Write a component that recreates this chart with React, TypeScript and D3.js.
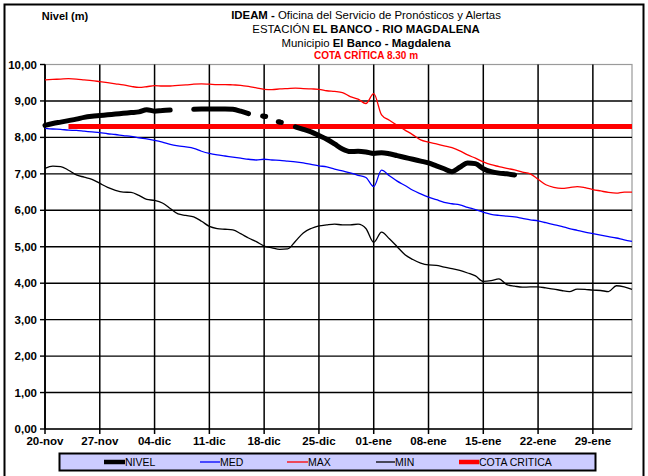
import React from "react";
import * as d3 from "d3";

const W = 648;
const H = 476;

const tickLabels = ["20-nov", "27-nov", "04-dic", "11-dic", "18-dic", "25-dic", "01-ene", "08-ene", "15-ene", "22-ene", "29-ene"];
const tickDays = [0, 7, 14, 21, 28, 35, 42, 49, 56, 63, 70];
const yTicks = [0, 1, 2, 3, 4, 5, 6, 7, 8, 9, 10];

const nivel: (number | null)[] = [
  8.33, 8.38, 8.42, 8.46, 8.5, 8.55, 8.58, 8.6, 8.62, 8.64, 8.66, 8.68, 8.7, 8.76, 8.72, 8.74, 8.75,
  null, null, 8.77, 8.78, 8.78, 8.78, 8.78, 8.77, 8.72, 8.65, null, 8.58, null, 8.42, null,
  8.29, 8.22, 8.15, 8.05, 7.95, 7.82, 7.68, 7.61, 7.62, 7.6, 7.56, 7.58, 7.55, 7.5, 7.45, 7.4,
  7.35, 7.3, 7.22, 7.14, 7.06, 7.18, 7.3, 7.28, 7.14, 7.06, 7.02, 7.0, 6.97,
];

const med = [
  8.25, 8.23, 8.22, 8.2, 8.19, 8.17, 8.15, 8.13, 8.1, 8.08, 8.05, 8.03, 7.99, 7.96, 7.92, 7.87,
  7.81, 7.77, 7.74, 7.7, 7.62, 7.56, 7.52, 7.49, 7.46, 7.43, 7.4, 7.38, 7.4, 7.38, 7.37, 7.35,
  7.33, 7.3, 7.26, 7.22, 7.19, 7.13, 7.08, 7.03, 6.96, 6.9, 6.65, 7.1, 6.95, 6.8, 6.68, 6.55,
  6.45, 6.36, 6.29, 6.22, 6.18, 6.15, 6.08, 6.02, 5.95, 5.89, 5.86, 5.84, 5.82, 5.78, 5.74,
  5.71, 5.66, 5.61, 5.56, 5.5, 5.45, 5.4, 5.36, 5.32, 5.28, 5.24, 5.19, 5.15,
];

const max = [
  9.58, 9.59, 9.6, 9.61, 9.6, 9.58, 9.56, 9.53, 9.5, 9.47, 9.44, 9.4, 9.37, 9.39, 9.42, 9.41,
  9.41, 9.43, 9.44, 9.46, 9.47, 9.46, 9.45, 9.45, 9.44, 9.43, 9.4, 9.36, 9.32, 9.31, 9.33, 9.34,
  9.35, 9.34, 9.33, 9.32, 9.28, 9.26, 9.23, 9.12, 9.05, 8.93, 9.2, 8.62, 8.47, 8.33, 8.2, 8.07,
  7.93, 7.87, 7.82, 7.77, 7.72, 7.63, 7.52, 7.43, 7.33, 7.25, 7.2, 7.15, 7.11, 7.05, 7.0, 6.85,
  6.7, 6.63, 6.6, 6.62, 6.65, 6.62, 6.57, 6.53, 6.49, 6.47, 6.5, 6.5,
];

const min = [
  7.15, 7.21, 7.2, 7.1, 6.97, 6.91, 6.85, 6.74, 6.63, 6.55, 6.5, 6.49, 6.41, 6.3, 6.27, 6.2,
  6.05, 5.9, 5.86, 5.82, 5.7, 5.56, 5.5, 5.48, 5.46, 5.36, 5.24, 5.14, 5.02, 4.97, 4.93, 4.94,
  5.15, 5.38, 5.5, 5.57, 5.6, 5.62, 5.6, 5.6, 5.62, 5.5, 5.12, 5.4, 5.22, 5.0, 4.78, 4.65, 4.55,
  4.5, 4.49, 4.44, 4.4, 4.35, 4.28, 4.2, 4.05, 4.07, 4.12, 3.96, 3.92, 3.89, 3.9, 3.9, 3.87,
  3.84, 3.8, 3.77, 3.84, 3.83, 3.81, 3.8, 3.77, 3.93, 3.9, 3.83,
];

const cotaCritica = 8.3;
const cotaStartDay = 3;
const lastDay = 75;

const FONT = "'Liberation Sans', Arial, sans-serif";

export default function App() {
  const left = 45;
  const right = 632;
  const top = 64.5;
  const bottom = 429;

  const x = d3.scaleLinear().domain([0, lastDay]).range([left, right]);
  const y = d3.scaleLinear().domain([0, 10]).range([bottom, top]);

  const line = d3
    .line<number | null>()
    .defined((d) => d !== null)
    .x((_, i) => x(i))
    .y((d) => y(d as number))
    .curve(d3.curveMonotoneX);

  const cota = d3.range(cotaStartDay, lastDay + 1).map(() => cotaCritica);
  const cotaLine = d3
    .line<number>()
    .x((_, i) => x(i + cotaStartDay))
    .y((d) => y(d));

  // isolated NIVEL readings (no neighbours) drawn as short marks
  const isolated = nivel
    .map((v, i) => ({ v, i }))
    .filter(
      (d) =>
        d.v !== null &&
        (d.i === 0 || nivel[d.i - 1] === null) &&
        (d.i === nivel.length - 1 || nivel[d.i + 1] === null)
    );

  const legendItems = [
    { label: "NIVEL", color: "#000", w: 4.5, x1: 104, x2: 125 },
    { label: "MED", color: "#0000ff", w: 1.3, x1: 200, x2: 220 },
    { label: "MAX", color: "#ff0000", w: 1.3, x1: 287, x2: 308 },
    { label: "MIN", color: "#000", w: 1.3, x1: 376, x2: 395 },
    { label: "COTA CRITICA", color: "#ff0000", w: 4.5, x1: 459, x2: 479 },
  ];

  return (
    <svg
      width={W}
      height={H}
      style={{ position: "absolute", left: 0, top: 0, background: "#fff" }}
      fontFamily={FONT}
    >
      <rect x={0} y={0} width={W} height={H} fill="#fff" />
      {/* outer frame */}
      <rect x={4.5} y={4.5} width={639} height={480} fill="none" stroke="#000" strokeWidth={2} />

      {/* titles */}
      <text x={65} y={20} fontSize={11} fontWeight="bold" textAnchor="middle">
        Nivel (m)
      </text>
      <text x={366} y={19} fontSize={11.4} textAnchor="middle">
        <tspan fontWeight="bold">IDEAM - </tspan>
        <tspan>Oficina del Servicio de Pronósticos y Alertas</tspan>
      </text>
      <text x={366} y={33} fontSize={11.4} textAnchor="middle">
        <tspan>ESTACIÓN </tspan>
        <tspan fontWeight="bold">EL BANCO - RIO MAGDALENA</tspan>
      </text>
      <text x={366} y={47} fontSize={11.4} textAnchor="middle">
        <tspan>Municipio </tspan>
        <tspan fontWeight="bold">El Banco - Magdalena</tspan>
      </text>
      <text x={366} y={59} fontSize={10} fontWeight="bold" fill="#ff0000" textAnchor="middle">
        COTA CRÍTICA 8.30 m
      </text>

      {/* plot border */}
      <rect x={left} y={top} width={right - left} height={bottom - top} fill="#fff" stroke="#9a9a9a" strokeWidth={1.2} />

      {/* horizontal grid */}
      {yTicks.map((t) => (
        <g key={"h" + t}>
          {t > 0 && t < 10 && (
            <line x1={left} x2={right} y1={y(t)} y2={y(t)} stroke="#000" strokeWidth={1.4} />
          )}
          <line x1={left - 5} x2={left} y1={y(t)} y2={y(t)} stroke="#000" strokeWidth={1.4} />
          <text x={37} y={y(t) + 4} fontSize={11.5} fontWeight="bold" textAnchor="end">
            {d3.format(".2f")(t).replace(".", ",")}
          </text>
        </g>
      ))}

      {/* vertical grid */}
      {tickDays.map((d, i) => (
        <g key={"v" + d}>
          <line x1={x(d)} x2={x(d)} y1={top} y2={bottom + 5} stroke="#000" strokeWidth={1.5} />
          <text x={x(d)} y={445} fontSize={11.5} fontWeight="bold" textAnchor="middle">
            {tickLabels[i]}
          </text>
        </g>
      ))}

      {/* axes */}
      <line x1={left} x2={left} y1={top} y2={bottom} stroke="#000" strokeWidth={1.5} />
      <line x1={left} x2={right} y1={bottom} y2={bottom} stroke="#000" strokeWidth={1.5} />

      {/* series */}
      <path d={cotaLine(cota) || ""} fill="none" stroke="#ff0000" strokeWidth={5} />
      <path d={line(max) || ""} fill="none" stroke="#ff0000" strokeWidth={1.3} />
      <path d={line(med) || ""} fill="none" stroke="#0000ff" strokeWidth={1.3} />
      <path d={line(min) || ""} fill="none" stroke="#000" strokeWidth={1.3} />
      <path
        d={line(nivel) || ""}
        fill="none"
        stroke="#000"
        strokeWidth={5}
        strokeLinecap="round"
        strokeLinejoin="round"
      />
      {isolated.map((d) => (
        <line
          key={"iso" + d.i}
          x1={x(d.i) - 1.5}
          x2={x(d.i) + 1.5}
          y1={y(d.v as number) - 0.3}
          y2={y(d.v as number) + 0.3}
          stroke="#000"
          strokeWidth={5}
          strokeLinecap="round"
        />
      ))}

      {/* legend */}
      <rect x={59.5} y={453.5} width={536} height={17} fill="#ccccff" stroke="#000" strokeWidth={2} />
      {legendItems.map((it) => (
        <g key={it.label}>
          <line x1={it.x1} x2={it.x2} y1={462} y2={462} stroke={it.color} strokeWidth={it.w} />
          <text x={it.x2} y={466} fontSize={10.5}>
            {it.label}
          </text>
        </g>
      ))}
    </svg>
  );
}
